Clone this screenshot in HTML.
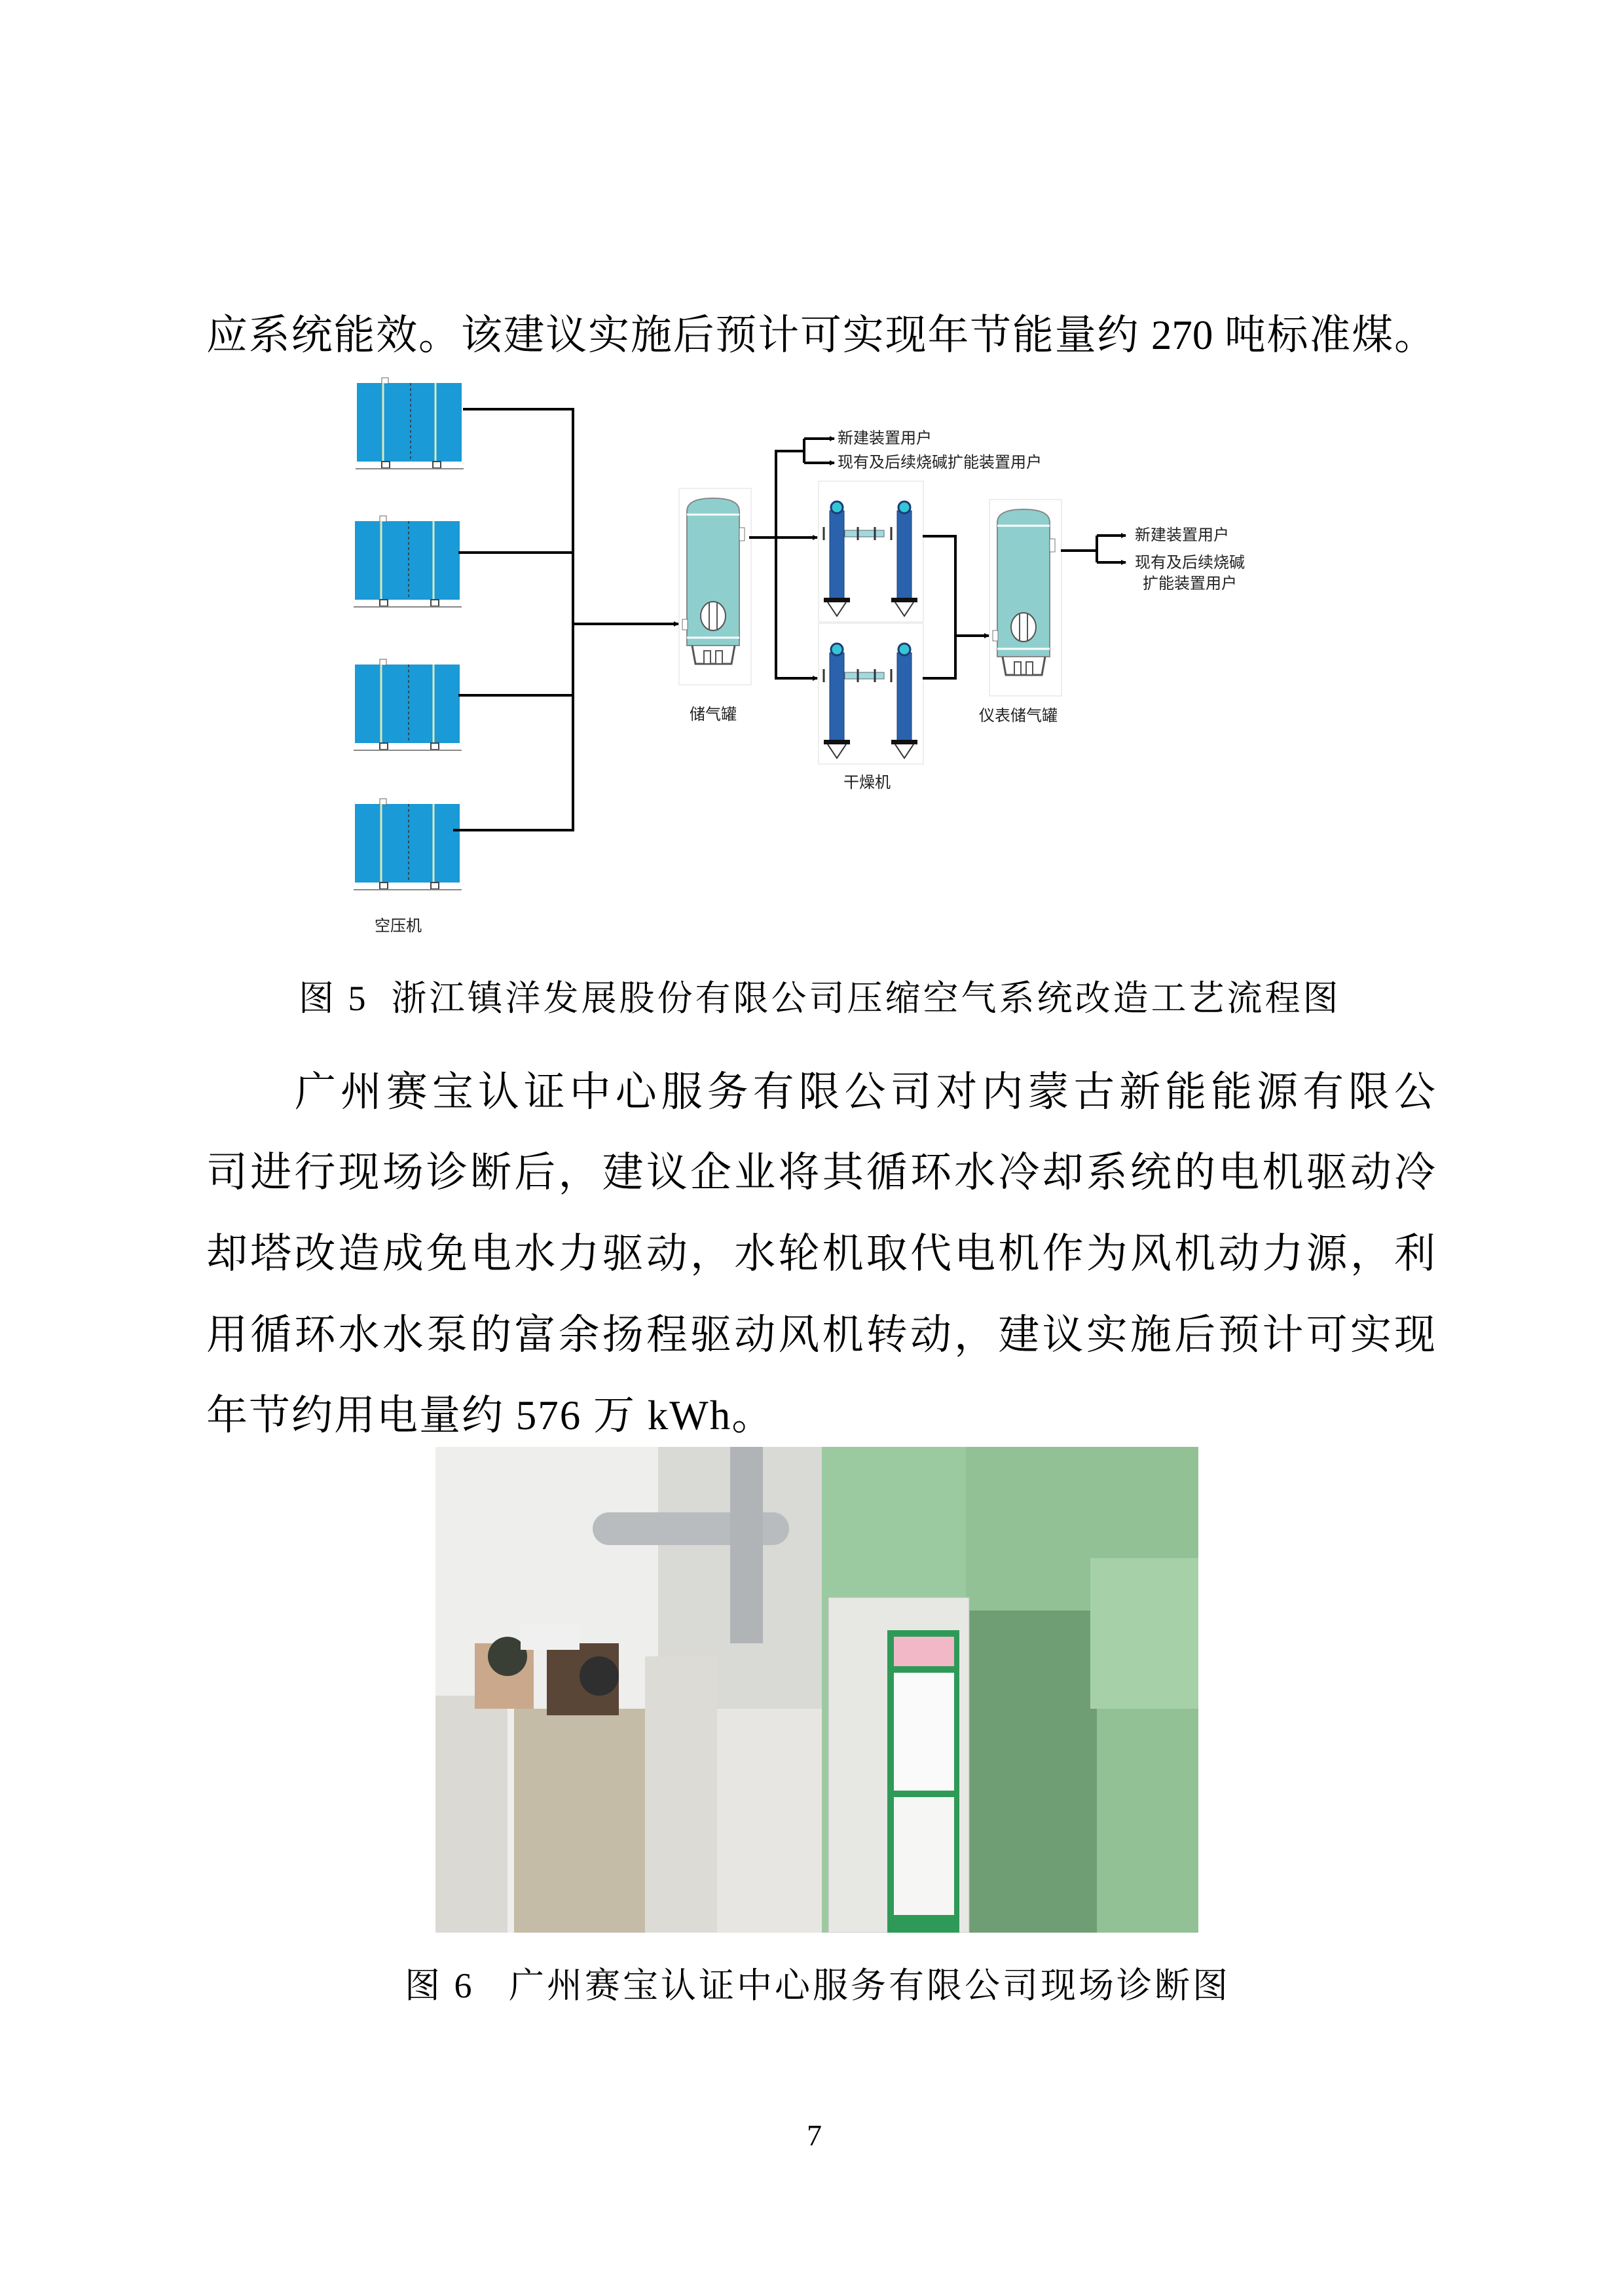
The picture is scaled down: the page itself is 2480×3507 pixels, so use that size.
<!DOCTYPE html>
<html><head><meta charset="utf-8"><style>
html,body{margin:0;padding:0;background:#fff}
body{width:2480px;height:3507px;position:relative;overflow:hidden;font-family:"Liberation Serif","Noto Serif CJK SC",serif;color:#000}
.ln{position:absolute;left:315px;width:1877px;font-size:63px;line-height:80px;text-align:justify;text-align-last:justify;white-space:nowrap}
.cap{position:absolute;font-size:54px;line-height:70px;white-space:nowrap;letter-spacing:4px}
.lab{position:absolute;font-family:"Liberation Sans","Noto Sans CJK SC",sans-serif;font-size:24px;line-height:28px;white-space:nowrap;color:#222}
</style></head><body>
<div class="ln" style="top:472px">应系统能效。该建议实施后预计可实现年节能量约 270 吨标准煤。</div>

<svg style="position:absolute;left:0;top:0" width="2480" height="3507" viewBox="0 0 2480 3507">
<defs>
<g id="comp">
<rect x="0" y="0" width="165" height="150" fill="#fff"/>
<rect x="2" y="12" width="160" height="120" fill="#1a9ad6"/>
<rect x="40" y="4" width="10" height="9" fill="#fff" stroke="#666"/>
<line x1="42" y1="12" x2="42" y2="132" stroke="#d8e8c0" stroke-width="3"/>
<line x1="84" y1="12" x2="84" y2="132" stroke="#333" stroke-width="1.5" stroke-dasharray="4 4"/>
<line x1="122" y1="12" x2="122" y2="132" stroke="#d8e8c0" stroke-width="3"/>
<rect x="40" y="132" width="12" height="10" fill="#fff" stroke="#444" stroke-width="2"/>
<rect x="118" y="132" width="12" height="10" fill="#fff" stroke="#444" stroke-width="2"/>
<line x1="0" y1="143" x2="165" y2="143" stroke="#888" stroke-width="2"/>
</g>
<g id="tank">
<rect x="0" y="0" width="110" height="300" fill="#fff" stroke="#ddd"/>
<path d="M12 35 Q12 15 52 15 Q92 15 92 35 L92 240 L12 240 Z" fill="#8ecfce" stroke="#888" stroke-width="2"/>
<line x1="12" y1="40" x2="92" y2="40" stroke="#fff" stroke-width="3"/>
<line x1="12" y1="228" x2="92" y2="228" stroke="#fff" stroke-width="3"/>
<ellipse cx="52" cy="195" rx="19" ry="22" fill="#fff" stroke="#555" stroke-width="2"/>
<line x1="46" y1="175" x2="46" y2="215" stroke="#555" stroke-width="2"/>
<line x1="58" y1="175" x2="58" y2="215" stroke="#555" stroke-width="2"/>
<path d="M20 240 L25 268 L80 268 L85 240" fill="none" stroke="#555" stroke-width="3"/>
<rect x="38" y="248" width="10" height="20" fill="#fff" stroke="#555" stroke-width="2"/>
<rect x="56" y="248" width="10" height="20" fill="#fff" stroke="#555" stroke-width="2"/>
<rect x="92" y="60" width="8" height="20" fill="#fff" stroke="#777"/>
<rect x="5" y="200" width="8" height="16" fill="#fff" stroke="#777"/>
</g>
<g id="dryer">
<rect x="0" y="0" width="160" height="215" fill="#fff" stroke="#ddd"/>
<rect x="40" y="75" width="60" height="10" fill="#9fdae0" stroke="#666"/>
<g id="col"><rect x="17" y="45" width="22" height="135" fill="#2a62ad" stroke="#1a3c75"/>
<circle cx="28" cy="40" r="9" fill="#35c6d6" stroke="#1a3c75" stroke-width="3"/>
<rect x="8" y="178" width="40" height="7" fill="#111"/>
<path d="M14 185 L28 206 L42 185" fill="#fff" stroke="#333" stroke-width="2"/>
<line x1="8" y1="70" x2="8" y2="90" stroke="#333" stroke-width="3"/></g>
<use href="#col" x="103"/>
<line x1="60" y1="70" x2="60" y2="90" stroke="#333" stroke-width="3"/>
<line x1="86" y1="70" x2="86" y2="90" stroke="#333" stroke-width="3"/>
</g>
<marker id="ar" markerWidth="8" markerHeight="8" refX="7" refY="4" orient="auto" markerUnits="userSpaceOnUse"><path d="M0 0 L8 4 L0 8 Z" fill="#000"/></marker>
</defs>
<use href="#comp" x="543" y="573"/>
<use href="#comp" x="540" y="784"/>
<use href="#comp" x="540" y="1003"/>
<use href="#comp" x="540" y="1216"/>
<g stroke="#000" stroke-width="4" fill="none">
<line x1="707" y1="625" x2="875" y2="625"/>
<line x1="700" y1="844" x2="875" y2="844"/>
<line x1="700" y1="1062" x2="875" y2="1062"/>
<line x1="692" y1="1268" x2="875" y2="1268"/>
<line x1="875" y1="623" x2="875" y2="1270"/>
<line x1="875" y1="953" x2="1036" y2="953" marker-end="url(#ar)"/>
</g>
<use href="#tank" x="1037" y="746"/>
<use href="#dryer" x="1250" y="735"/>
<use href="#dryer" x="1250" y="952"/>
<use href="#tank" x="1511" y="763"/>
<g stroke="#000" stroke-width="4" fill="none">
<line x1="1144" y1="821" x2="1248" y2="821" marker-end="url(#ar)"/>
<line x1="1185" y1="687" x2="1185" y2="1038"/>
<line x1="1185" y1="1036" x2="1248" y2="1036" marker-end="url(#ar)"/>
<line x1="1185" y1="689" x2="1228" y2="689"/>
<line x1="1228" y1="670" x2="1228" y2="707"/>
<line x1="1228" y1="670" x2="1274" y2="670" marker-end="url(#ar)"/>
<line x1="1228" y1="707" x2="1274" y2="707" marker-end="url(#ar)"/>
<line x1="1409" y1="819" x2="1459" y2="819"/>
<line x1="1409" y1="1036" x2="1459" y2="1036"/>
<line x1="1459" y1="817" x2="1459" y2="1038"/>
<line x1="1459" y1="971" x2="1510" y2="971" marker-end="url(#ar)"/>
<line x1="1620" y1="841" x2="1675" y2="841"/>
<line x1="1675" y1="818" x2="1675" y2="859"/>
<line x1="1675" y1="818" x2="1719" y2="818" marker-end="url(#ar)"/>
<line x1="1675" y1="859" x2="1719" y2="859" marker-end="url(#ar)"/>
</g>
</svg>
<div class="lab" style="left:1279px;top:656px">新建装置用户</div>
<div class="lab" style="left:1279px;top:693px">现有及后续烧碱扩能装置用户</div>
<div class="lab" style="left:1733px;top:804px">新建装置用户</div>
<div class="lab" style="left:1733px;top:846px">现有及后续烧碱</div>
<div class="lab" style="left:1745px;top:878px">扩能装置用户</div>
<div class="lab" style="left:1053px;top:1078px">储气罐</div>
<div class="lab" style="left:1495px;top:1080px">仪表储气罐</div>
<div class="lab" style="left:1288px;top:1182px">干燥机</div>
<div class="lab" style="left:572px;top:1401px">空压机</div>

<div class="cap" style="left:456px;top:1490px">图 5&nbsp; 浙江镇洋发展股份有限公司压缩空气系统改造工艺流程图</div>

<div class="ln" style="top:1628px;left:450px;width:1742px">广州赛宝认证中心服务有限公司对内蒙古新能能源有限公</div>
<div class="ln" style="top:1751px">司进行现场诊断后，建议企业将其循环水冷却系统的电机驱动冷</div>
<div class="ln" style="top:1875px">却塔改造成免电水力驱动，水轮机取代电机作为风机动力源，利</div>
<div class="ln" style="top:1999px">用循环水水泵的富余扬程驱动风机转动，建议实施后预计可实现</div>
<div class="ln" style="top:2122px;width:auto;text-align:left;text-align-last:auto;letter-spacing:2px">年节约用电量约 576 万 kWh。</div>

<svg style="position:absolute;left:665px;top:2210px" width="1165" height="742" viewBox="0 0 1165 742">
<rect width="1165" height="742" fill="#e8e6e2"/>
<rect x="0" y="0" width="340" height="742" fill="#eeeeec"/>
<rect x="340" y="0" width="260" height="400" fill="#d9d9d6"/>
<rect x="240" y="100" width="300" height="50" rx="25" fill="#b8bcbe"/>
<rect x="450" y="0" width="50" height="300" fill="#b0b4b6"/>
<rect x="590" y="0" width="575" height="742" fill="#9ccaa0"/>
<rect x="810" y="0" width="355" height="742" fill="#92c196"/>
<rect x="810" y="250" width="200" height="492" fill="#6f9e74"/>
<rect x="1000" y="170" width="165" height="230" fill="#a6d1a8"/>
<rect x="600" y="230" width="215" height="512" fill="#e7e8e4" stroke="#bbb"/>
<rect x="690" y="280" width="110" height="462" fill="#2f9a58"/>
<rect x="700" y="290" width="92" height="45" fill="#f2b8c8"/>
<rect x="700" y="345" width="92" height="180" fill="#fafafa"/>
<rect x="700" y="535" width="92" height="180" fill="#f6f6f4"/>
<rect x="0" y="380" width="110" height="362" fill="#dad9d3"/>
<rect x="60" y="300" width="90" height="100" fill="#caa88c"/>
<rect x="120" y="400" width="240" height="342" fill="#c5bca8"/>
<rect x="170" y="300" width="110" height="110" fill="#5a4636"/>
<rect x="320" y="320" width="110" height="422" fill="#dcdbd6"/>
<circle cx="110" cy="320" r="30" fill="#3a3f35"/>
<circle cx="250" cy="350" r="30" fill="#2f2f2f"/>
<rect x="130" y="270" width="90" height="40" fill="#f0f0f0"/>
</svg>

<div class="cap" style="left:618px;top:2998px">图 6&nbsp;&nbsp; 广州赛宝认证中心服务有限公司现场诊断图</div>
<div class="cap" style="left:1232px;top:3227px;font-size:46px">7</div>
</body></html>
